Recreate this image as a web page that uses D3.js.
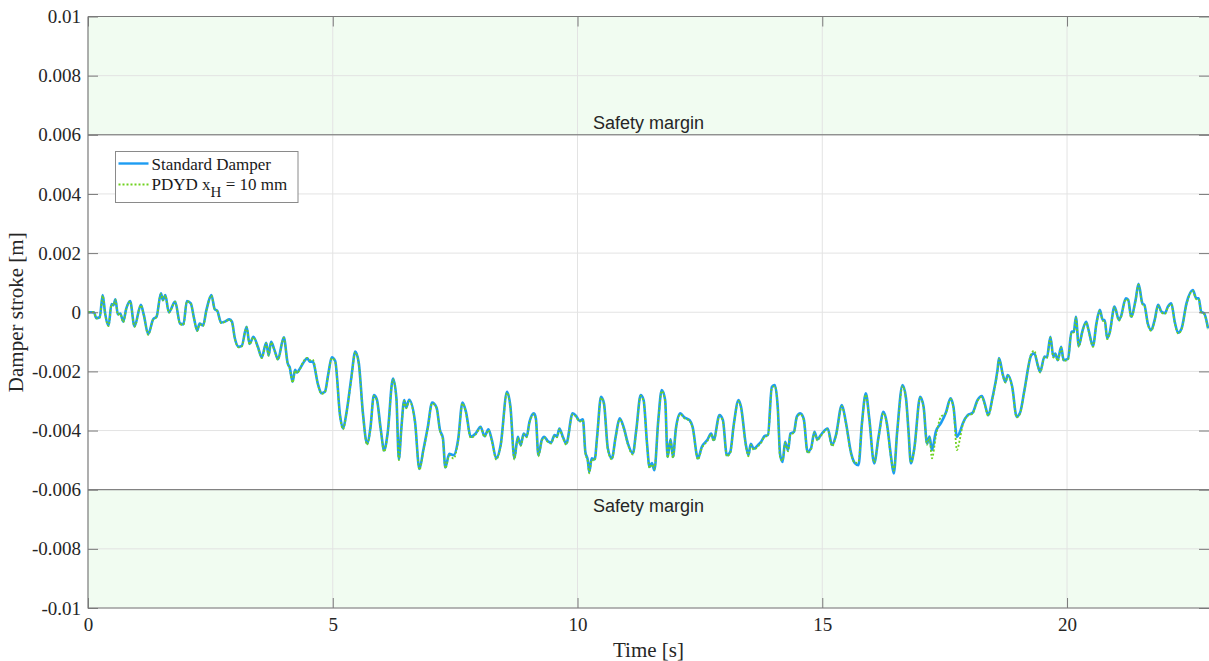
<!DOCTYPE html>
<html>
<head>
<meta charset="utf-8">
<script src="https://cdn.jsdelivr.net/npm/d3@7"></script>
<style>
  body { margin: 0; background: #fff; }
  svg { display: block; }
  svg text { font-family: "Liberation Serif", "Times New Roman", serif; }
  svg text.sans { font-family: "Liberation Sans", Arial, sans-serif; }
</style>
</head>
<body>
<svg></svg>
<script>
// time in s, stroke in mm (converted to m when drawn)
var time = [0.00, 0.12, 0.17, 0.24, 0.30, 0.35, 0.42, 0.48, 0.52, 0.56, 0.61, 0.66, 0.72, 0.78, 0.86, 0.95,
  1.08, 1.14, 1.23, 1.33, 1.40, 1.49, 1.53, 1.58, 1.65, 1.78, 1.88, 1.95, 2.02, 2.10, 2.16, 2.23, 2.28, 2.35,
  2.42, 2.52, 2.59, 2.64, 2.72, 2.79, 2.89, 2.94, 3.00, 3.08, 3.14, 3.24, 3.30, 3.38, 3.47, 3.55, 3.64, 3.69,
  3.74, 3.81, 3.88, 4.00, 4.08, 4.12, 4.18, 4.23, 4.27, 4.33, 4.39, 4.48, 4.53, 4.59, 4.70, 4.77, 4.84, 4.91,
  4.98, 5.05, 5.15, 5.21, 5.28, 5.38, 5.46, 5.53, 5.62, 5.70, 5.77, 5.84, 5.90, 5.98, 6.05, 6.12, 6.23, 6.30,
  6.35, 6.40, 6.46, 6.50, 6.56, 6.68, 6.77, 6.85, 6.94, 7.03, 7.12, 7.19, 7.25, 7.30, 7.38, 7.47, 7.56, 7.65,
  7.72, 7.82, 7.92, 8.02, 8.10, 8.18, 8.25, 8.34, 8.43, 8.56, 8.63, 8.71, 8.78, 8.84, 8.90, 8.96, 9.02, 9.11,
  9.15, 9.20, 9.27, 9.32, 9.39, 9.46, 9.53, 9.58, 9.63, 9.70, 9.77, 9.90, 9.97, 10.04, 10.11, 10.16, 10.21,
  10.24, 10.29, 10.35, 10.40, 10.48, 10.54, 10.62, 10.70, 10.78, 10.86, 10.95, 11.03, 11.13, 11.20, 11.29,
  11.35, 11.42, 11.47, 11.52, 11.57, 11.65, 11.72, 11.79, 11.84, 11.90, 11.95, 12.01, 12.10, 12.18, 12.29,
  12.35, 12.46, 12.54, 12.65, 12.73, 12.78, 12.90, 12.97, 13.05, 13.12, 13.19, 13.29, 13.34, 13.44, 13.49,
  13.54, 13.60, 13.68, 13.75, 13.82, 13.89, 13.97, 14.03, 14.09, 14.14, 14.19, 14.24, 14.30, 14.35, 14.42,
  14.48, 14.55, 14.62, 14.70, 14.77, 14.84, 14.90, 14.97, 15.11, 15.20, 15.28, 15.40, 15.48, 15.59, 15.67,
  15.74, 15.81, 15.89, 15.96, 16.06, 16.15, 16.25, 16.32, 16.40, 16.46, 16.53, 16.64, 16.71, 16.76, 16.81,
  16.88, 17.00, 17.07, 17.14, 17.19, 17.24, 17.32, 17.42, 17.53, 17.62, 17.68, 17.75, 17.81, 17.87, 17.97,
  18.07, 18.17, 18.26, 18.32, 18.39, 18.48, 18.58, 18.61, 18.69, 18.74, 18.79, 18.88, 18.97, 19.04, 19.13,
  19.27, 19.33, 19.41, 19.45, 19.54, 19.59, 19.66, 19.72, 19.76, 19.81, 19.88, 19.93, 20.02, 20.09, 20.14,
  20.18, 20.24, 20.31, 20.39, 20.44, 20.53, 20.60, 20.67, 20.73, 20.77, 20.82, 20.87, 20.97, 21.06, 21.10,
  21.20, 21.25, 21.31, 21.40, 21.46, 21.54, 21.58, 21.65, 21.72, 21.79, 21.86, 21.93, 22.00, 22.06, 22.13,
  22.20, 22.27, 22.34, 22.44, 22.57, 22.64, 22.69, 22.74, 22.80, 22.88]

var standard = [0, 0, -0.20, -0.17, 0.58, -0.04, -0.45, 0.28, 0.24, 0.44, -0.07, -0.04, -0.32, 0.11, 0.38, -0.47,
  0.25, -0.09, -0.74, -0.24, -0.15, 0.64, 0.41, 0.58, 0.00, 0.36, -0.38, -0.41, 0.38, 0.30, -0.15, -0.62, -0.38, -0.45,
  0.08, 0.58, 0.10, 0.05, -0.35, -0.32, -0.24, -0.32, -0.88, -1.17, -1.14, -0.49, -1.07, -0.83, -1.17, -1.53, -1.03, -1.45,
  -1.00, -1.28, -1.59, -0.85, -1.73, -1.86, -2.35, -1.95, -2.04, -1.90, -1.73, -1.56, -1.67, -1.67, -2.45, -2.74, -2.69, -2.07,
  -1.52, -1.65, -3.50, -3.93, -3.40, -2.20, -1.33, -1.70, -3.48, -4.44, -3.90, -2.80, -2.94, -3.95, -4.67, -4.10, -2.24, -2.90,
  -4.97, -3.95, -2.97, -3.22, -2.96, -3.70, -5.30, -4.66, -3.90, -3.05, -3.22, -3.98, -4.25, -5.25, -4.79, -4.83, -4.32, -3.05,
  -3.36, -4.21, -4.10, -3.87, -4.19, -3.96, -4.32, -4.94, -4.49, -2.69, -3.20, -4.94, -4.21, -4.49, -4.10, -4.20, -3.70, -3.42,
  -3.60, -4.83, -4.32, -4.21, -4.35, -4.41, -4.15, -4.20, -3.93, -4.21, -4.44, -3.42, -3.50, -3.67, -3.62, -4.72, -5.00,
  -5.40, -4.94, -4.98, -4.21, -2.86, -3.08, -4.61, -4.94, -4.20, -3.59, -3.93, -4.44, -4.77, -3.98, -2.80,
  -2.97, -4.44, -5.23, -5.10, -5.34, -3.65, -2.63, -2.97, -4.89, -4.30, -4.89, -3.93, -3.42, -3.55, -3.65,
  -3.87, -4.94, -4.55, -4.32, -4.10, -4.32, -3.48, -3.65, -4.83, -4.72, -3.82, -2.97, -3.20, -4.49, -4.83,
  -4.45, -4.61, -4.50, -4.38, -4.19, -4.15, -2.52, -2.46, -3.20, -4.83, -5.06, -4.38, -4.66, -4.10, -4.05,
  -3.53, -3.42, -3.60, -4.72, -4.60, -4.04, -4.30, -4.15, -3.93, -4.49, -4.15, -3.14, -3.70, -4.77, -5.11,
  -5.17, -3.76, -2.74, -3.59, -5.11, -4.21, -3.37, -3.76, -4.83, -5.45, -4.04, -2.46, -2.90, -3.98, -5.11,
  -4.60, -2.86, -3.20, -4.44, -4.20, -4.66, -4.04, -3.76, -3.37, -2.91, -3.20, -4.21, -4.05, -3.76, -3.48,
  -3.40, -2.97, -2.83, -3.10, -3.48, -2.86, -1.95, -1.55, -2.12, -2.35, -2.12, -2.52, -3.53, -3.40, -2.63,
  -1.45, -1.39, -1.84, -2.01, -1.50, -1.52, -0.83, -1.50, -1.40, -1.62, -1.17, -1.62, -1.58, -0.66, -0.65,
  -0.15, -1.14, -0.66, -0.32, -0.60, -1.14, -0.38, 0.08, -0.26, -0.26, -0.88, -0.70, 0.19, -0.26, -0.15,
  0.47, 0.42, -0.15, 0.41, 0.96, 0.30, 0.25, -0.38, -0.60, -0.26, 0.25, 0.02, -0.03, 0.19, 0.30,
  -0.32, -0.69, -0.55, 0.30, 0.75, 0.47, 0.47, 0.02, -0.03, -0.54]

var pdyd = [0, 0, -0.21, -0.18, 0.56, -0.06, -0.47, 0.27, 0.23, 0.43, -0.09, -0.05, -0.34, 0.10, 0.37, -0.49,
  0.24, -0.10, -0.76, -0.25, -0.16, 0.62, 0.40, 0.57, -0.02, 0.35, -0.40, -0.43, 0.37, 0.29, -0.17, -0.64, -0.40, -0.47,
  0.07, 0.56, 0.09, 0.04, -0.37, -0.33, -0.25, -0.34, -0.90, -1.19, -1.16, -0.50, -1.09, -0.85, -1.19, -1.55, -1.05, -1.47,
  -1.02, -1.30, -1.61, -0.87, -1.75, -1.90, -2.38, -1.97, -2.06, -1.92, -1.70, -1.54, -1.62, -1.60, -2.47, -2.76, -2.70, -2.09,
  -1.55, -1.68, -3.55, -3.96, -3.42, -2.24, -1.36, -1.73, -3.52, -4.48, -3.93, -2.83, -2.97, -3.99, -4.72, -4.13, -2.27, -2.93,
  -5.00, -3.98, -3.00, -3.25, -3.00, -3.73, -5.33, -4.70, -3.93, -3.08, -3.24, -4.02, -4.30, -5.28, -4.84, -4.95, -4.36, -3.08,
  -3.40, -4.25, -4.13, -3.90, -4.22, -3.99, -4.36, -4.98, -4.53, -2.72, -3.23, -4.98, -4.25, -4.52, -4.13, -4.23, -3.73, -3.45,
  -3.63, -4.87, -4.35, -4.24, -4.38, -4.44, -4.18, -4.23, -3.96, -4.24, -4.48, -3.45, -3.53, -3.70, -3.65, -4.76, -5.05,
  -5.45, -4.98, -5.02, -4.24, -2.89, -3.11, -4.65, -4.98, -4.23, -3.62, -3.96, -4.48, -4.81, -4.01, -2.83,
  -3.00, -4.48, -5.27, -5.14, -5.30, -3.68, -2.66, -3.00, -4.93, -4.34, -4.93, -3.96, -3.45, -3.58, -3.68,
  -3.90, -4.98, -4.59, -4.36, -4.13, -4.36, -3.51, -3.68, -4.87, -4.76, -3.85, -3.00, -3.23, -4.53, -4.87,
  -4.49, -4.65, -4.54, -4.41, -4.22, -4.18, -2.56, -2.50, -3.24, -4.95, -5.02, -4.42, -4.70, -4.13, -4.08,
  -3.56, -3.45, -3.63, -4.76, -4.64, -4.07, -4.34, -4.18, -3.96, -4.53, -4.18, -3.18, -3.73, -4.81, -5.10,
  -5.05, -3.80, -2.78, -3.62, -5.08, -4.24, -3.41, -3.80, -4.87, -5.35, -4.07, -2.50, -2.94, -4.02, -5.08,
  -4.64, -2.90, -3.23, -4.48, -4.24, -4.94, -4.20, -3.55, -3.40, -2.94, -3.23, -4.66, -4.30, -3.80, -3.50,
  -3.43, -3.00, -2.86, -3.13, -3.51, -2.90, -1.98, -1.58, -2.15, -2.38, -2.15, -2.55, -3.56, -3.43, -2.66,
  -1.40, -1.30, -1.86, -2.04, -1.53, -1.55, -0.86, -1.53, -1.43, -1.65, -1.20, -1.65, -1.61, -0.69, -0.68,
  -0.18, -1.17, -0.69, -0.35, -0.63, -1.17, -0.41, 0.05, -0.29, -0.29, -0.91, -0.73, 0.16, -0.29, -0.18,
  0.44, 0.39, -0.18, 0.38, 0.93, 0.27, 0.22, -0.41, -0.63, -0.29, 0.22, -0.01, -0.06, 0.16, 0.27,
  -0.35, -0.72, -0.58, 0.27, 0.72, 0.44, 0.44, -0.01, -0.06, -0.57]

var xTicks = [0, 5, 10, 15, 20]
var yTicks = [-0.01, -0.008, -0.006, -0.004, -0.002, 0, 0.002, 0.004, 0.006, 0.008, 0.01]
var safety = 0.006 // safety margin limit [m]
var seriesNames = ['Standard Damper', 'PDYD x', 'H', ' = 10 mm']

var W = 1209, H = 661
var pLeft = 88, pRight = 1209, pTop = 16.5, pBottom = 608

var svg = d3.select('svg').attr('width', W).attr('height', H)

var x = d3.scaleLinear().domain([0, 22.9]).range([pLeft, pRight])
var y = d3.scaleLinear().domain([-0.01, 0.01]).range([pBottom, pTop])

// safety margin bands
var bands = [[safety, 0.01], [-0.01, -safety]]
svg.append('g').selectAll('rect').data(bands).enter().append('rect')
  .attr('x', pLeft)
  .attr('width', pRight - pLeft)
  .attr('y', function(d) {return y(d[1])})
  .attr('height', function(d) {return y(d[0]) - y(d[1])})
  .attr('fill', '#f1fcf1')

// grid
var grid = svg.append('g').attr('class', 'grid')
grid.selectAll('.gx').data(xTicks.slice(1)).enter().append('line')
  .attr('x1', function(d) {return x(d)}).attr('x2', function(d) {return x(d)})
  .attr('y1', pTop).attr('y2', pBottom)
  .attr('stroke', '#e3e3e3').attr('stroke-width', 1)
grid.selectAll('.gy').data(yTicks).enter().append('line')
  .attr('x1', pLeft).attr('x2', pRight)
  .attr('y1', function(d) {return y(d)}).attr('y2', function(d) {return y(d)})
  .attr('stroke', '#e3e3e3').attr('stroke-width', 1)

// margin limit lines
svg.append('g').selectAll('line').data([safety, -safety]).enter().append('line')
  .attr('x1', pLeft).attr('x2', pRight)
  .attr('y1', function(d) {return y(d)}).attr('y2', function(d) {return y(d)})
  .attr('stroke', '#6b6b6b').attr('stroke-width', 1)

svg.append('g').selectAll('text').data([safety, -safety]).enter().append('text')
  .attr('class', 'sans')
  .attr('x', (pLeft + pRight) / 2)
  .attr('y', function(d) {return d > 0 ? y(d) - 6 : y(d) + 22})
  .attr('text-anchor', 'middle')
  .attr('font-size', 18)
  .attr('fill', '#262626')
  .text('Safety margin')

// data lines
svg.append('clipPath').attr('id', 'clip').append('rect')
  .attr('x', pLeft).attr('y', pTop).attr('width', pRight - pLeft).attr('height', pBottom - pTop)

var line = d3.line()
  .x(function(d) {return x(d[0])})
  .y(function(d) {return y(d[1] / 1000)})
  .curve(d3.curveMonotoneX)

var plot = svg.append('g').attr('clip-path', 'url(#clip)')
plot.append('path')
  .datum(time.map(function(t, i) {return [t, standard[i]]}))
  .attr('d', line)
  .attr('fill', 'none')
  .attr('stroke', '#1d9cf2')
  .attr('stroke-width', 2.6)
  .attr('stroke-linejoin', 'round')
plot.append('path')
  .datum(time.map(function(t, i) {return [t, pdyd[i]]}))
  .attr('d', line)
  .attr('fill', 'none')
  .attr('stroke', '#6fd11f')
  .attr('stroke-width', 1.8)
  .attr('stroke-dasharray', '2,2')

// axes
var fmt = function(d) {return d === 0 ? '0' : String(+d.toFixed(3))}

function styleAxis(g) {
  g.attr('font-family', null).attr('font-size', 19)
  g.select('.domain').remove()
  g.selectAll('.tick line').attr('stroke', '#7a7a7a')
  g.selectAll('.tick text').attr('fill', '#262626')
}

svg.append('g').attr('transform', 'translate(' + pLeft + ',0)')
  .call(d3.axisLeft(y).tickValues(yTicks).tickFormat(fmt).tickSize(-10).tickPadding(7))
  .call(styleAxis)
svg.append('g').attr('transform', 'translate(' + pRight + ',0)')
  .call(d3.axisRight(y).tickValues(yTicks).tickFormat('').tickSize(-10))
  .call(styleAxis)
svg.append('g').attr('transform', 'translate(0,' + pBottom + ')')
  .call(d3.axisBottom(x).tickValues(xTicks).tickFormat(d3.format('d')).tickSize(-10).tickPadding(10))
  .call(styleAxis)
svg.append('g').attr('transform', 'translate(0,' + pTop + ')')
  .call(d3.axisTop(x).tickValues(xTicks).tickFormat('').tickSize(-10))
  .call(styleAxis)

// frame
svg.append('path')
  .attr('d', 'M' + pLeft + ',' + pTop + 'H' + pRight + 'M' + pLeft + ',' + pTop + 'V' + pBottom + 'H' + pRight)
  .attr('fill', 'none').attr('stroke', '#7a7a7a').attr('stroke-width', 1.2)

// axis titles
svg.append('text')
  .attr('x', (pLeft + pRight) / 2).attr('y', 657)
  .attr('text-anchor', 'middle')
  .attr('font-size', 21).attr('fill', '#262626')
  .text('Time [s]')
svg.append('text')
  .attr('transform', 'translate(23,' + (pTop + pBottom) / 2 + ') rotate(-90)')
  .attr('text-anchor', 'middle')
  .attr('font-size', 21).attr('fill', '#262626')
  .text('Damper stroke [m]')

// legend
var legend = svg.append('g').attr('transform', 'translate(115.5,151.5)')
legend.append('rect')
  .attr('width', 182.5).attr('height', 51)
  .attr('fill', '#fff').attr('stroke', '#8a8a8a').attr('stroke-width', 1)
legend.append('line')
  .attr('x1', 3).attr('x2', 33).attr('y1', 12).attr('y2', 12)
  .attr('stroke', '#1d9cf2').attr('stroke-width', 2.4)
legend.append('line')
  .attr('x1', 3).attr('x2', 33).attr('y1', 33).attr('y2', 33)
  .attr('stroke', '#6fd11f').attr('stroke-width', 1.8).attr('stroke-dasharray', '2,2')
legend.append('text')
  .attr('x', 36).attr('y', 18)
  .attr('font-size', 17).attr('fill', '#1a1a1a')
  .text(seriesNames[0])
var t2 = legend.append('text')
  .attr('x', 36).attr('y', 38)
  .attr('font-size', 17).attr('fill', '#1a1a1a')
t2.append('tspan').text(seriesNames[1])
t2.append('tspan').attr('dy', 7).attr('font-size', 15).text(seriesNames[2])
t2.append('tspan').attr('dy', -7).text(seriesNames[3])
</script>
</body>
</html>
